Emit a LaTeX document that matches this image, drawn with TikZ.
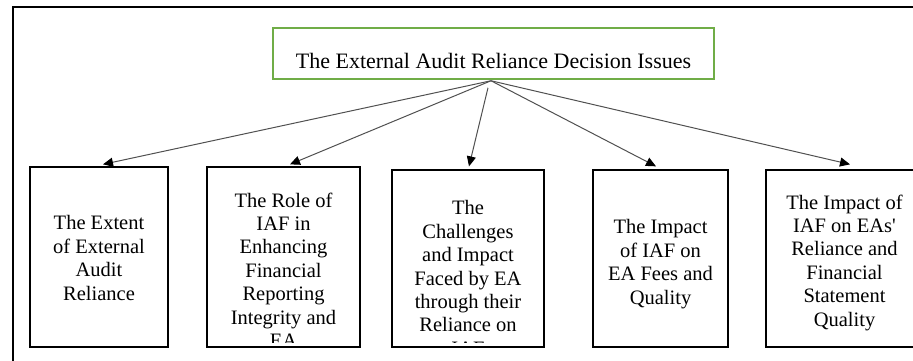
\documentclass[tikz,border=0pt]{standalone}
\usepackage{fontspec}
\setmainfont{Liberation Serif}[Ligatures=TeXOff]
\usepackage{xcolor}
\usetikzlibrary{arrows.meta}
\definecolor{headgreen}{RGB}{112,173,71}
\definecolor{linkgray}{RGB}{80,80,80}

\begin{document}
\begin{tikzpicture}[x=1pt,y=1pt,
 head/.style={draw=headgreen,line width=1.5pt,inner sep=0pt,minimum width=441pt,
   text height=40pt,text depth=11pt,font=\fontsize{22}{26}\selectfont},
 issue/.style={draw,line width=1.3pt,inner sep=0pt},
 issuetxt/.style={anchor=north,inner sep=0pt,align=center,font=\fontsize{20.5}{23.4}\selectfont},
 link/.style={draw=linkgray,line width=1pt,-{Triangle[length=10pt,width=9pt,color=black]}}]
\useasboundingbox (0,0) rectangle (913,-360);
\clip (0,0) rectangle (913,-360);
% open frame round the whole chart
\draw[line width=2pt] (13,-370) -- (13,-7) -- (930,-7);
\node[head] (top) at (493.5,-53.5) {The External Audit Reliance Decision Issues};
\coordinate (hub) at ([xshift=-2.5pt,yshift=-1pt]top.south);
\coordinate (hub3) at ([xshift=-5.5pt,yshift=-8pt]top.south);
% the five issue boxes, text cut at the lower margin
\node[issue,minimum width=138pt,minimum height=180pt] (b1) at (99,-257) {};
\node[issue,minimum width=153pt,minimum height=180pt] (b2) at (283.5,-257) {};
\node[issue,minimum width=152pt,minimum height=177pt] (b3) at (468,-258.5) {};
\node[issue,minimum width=135pt,minimum height=177pt] (b4) at (660.5,-258.5) {};
\node[issue,minimum width=157pt,minimum height=177pt] (b5) at (844.5,-258.5) {};
\begin{scope}
\clip ([yshift=5pt]b1.south west) rectangle (b1.north east);
\node[issuetxt] (t1) at (99,-215.5) {The Extent\\of External\\Audit\\Reliance};
\end{scope}
\begin{scope}
\clip ([yshift=5pt]b2.south west) rectangle (b2.north east);
\node[issuetxt] (t2) at (283.5,-192.5) {The Role of\\IAF in\\Enhancing\\Financial\\Reporting\\Integrity and\\EA};
\end{scope}
\begin{scope}
\clip ([yshift=5pt]b3.south west) rectangle (b3.north east);
\node[issuetxt] (t3) at (468,-200.5) {The\\Challenges\\and Impact\\Faced by EA\\through their\\Reliance on\\IAF};
\end{scope}
\begin{scope}
\clip ([yshift=5pt]b4.south west) rectangle (b4.north east);
\node[issuetxt] (t4) at (660.5,-219.5) {The Impact\\of IAF on\\EA Fees and\\Quality};
\end{scope}
\begin{scope}
\clip ([yshift=5pt]b5.south west) rectangle (b5.north east);
\node[issuetxt] (t5) at (844.5,-194.5) {The Impact of\\IAF on EAs'\\Reliance and\\Financial\\Statement\\Quality};
\end{scope}
\draw[link] (hub) -- ([xshift=4pt,yshift=2pt]b1.north);
\draw[link] (hub) -- ([xshift=6.5pt,yshift=2pt]b2.north);
\draw[link] (hub3) -- ([xshift=1pt,yshift=3pt]b3.north);
\draw[link] (hub) -- ([xshift=-4.5pt,yshift=3pt]b4.north);
\draw[link] (hub) -- ([xshift=5.5pt,yshift=5pt]b5.north);
\end{tikzpicture}
\end{document}
